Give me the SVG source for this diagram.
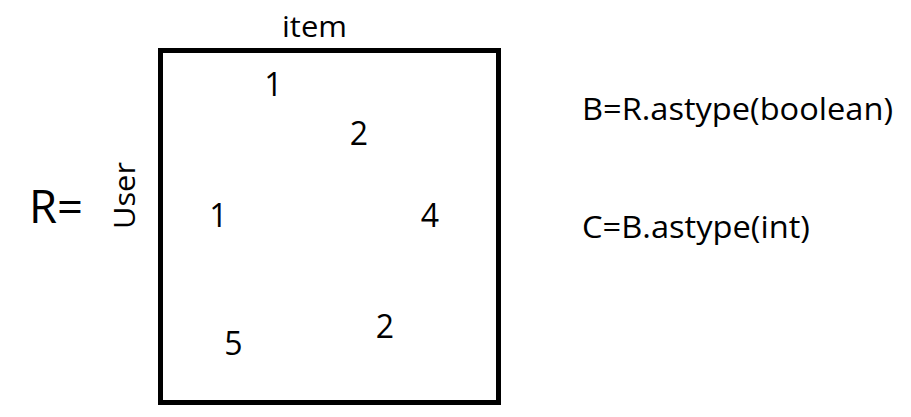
<svg xmlns="http://www.w3.org/2000/svg" width="911" height="417" viewBox="0 0 911 417">
<style>
text{font-family:"Open Sans","Noto Sans","DejaVu Sans",sans-serif;fill:#000}
.n{font-size:32px;text-anchor:middle}
.lbl{font-size:30px}
.f{font-size:31px}
</style>
<rect width="911" height="417" fill="#fff"/>
<g id="matrix">
<rect x="160.5" y="50.5" width="338" height="352" fill="none" stroke="#000" stroke-width="5"/>
<text class="n" x="273.5" y="96">1</text>
<text class="n" x="359" y="145">2</text>
<text class="n" x="218.5" y="227">1</text>
<text class="n" x="430" y="227">4</text>
<text class="n" x="233.5" y="355">5</text>
<text class="n" x="385" y="338">2</text>
</g>
<g id="labels">
<text class="lbl" x="282" y="37" textLength="65" lengthAdjust="spacingAndGlyphs">item</text>
<text class="lbl" transform="translate(135,229) rotate(-90)" textLength="67" lengthAdjust="spacingAndGlyphs">User</text>
<text x="29" y="222.5" font-size="46px" textLength="54" lengthAdjust="spacingAndGlyphs">R=</text>
</g>
<g id="formulas">
<text class="f" x="582" y="120" textLength="311" lengthAdjust="spacingAndGlyphs">B=R.astype(boolean)</text>
<text class="f" x="582" y="238" textLength="228" lengthAdjust="spacingAndGlyphs">C=B.astype(int)</text>
</g>
</svg>
